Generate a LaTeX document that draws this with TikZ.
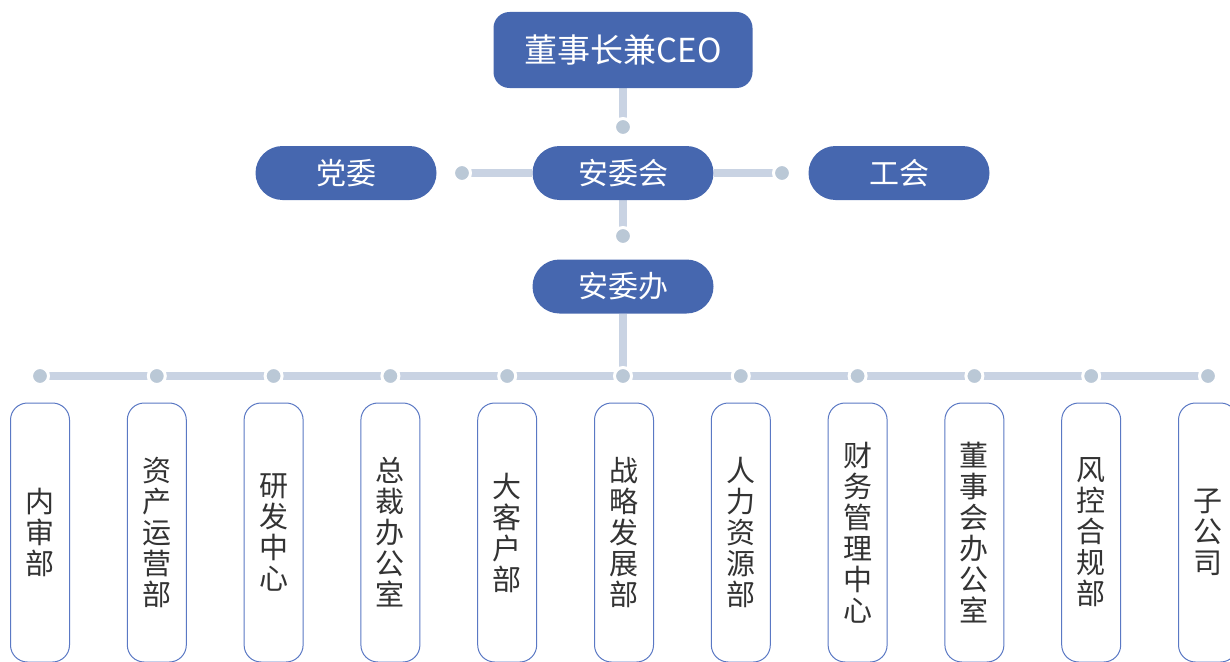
\documentclass[tikz,border=0pt]{standalone}
\usepackage{fontspec}
\setmainfont{Noto Sans CJK SC}
\definecolor{myblue}{HTML}{4667AF}
\definecolor{linegray}{HTML}{C9D3E3}
\definecolor{dotgray}{HTML}{BAC8D6}
\definecolor{borderblue}{HTML}{5A78C4}
\definecolor{textgray}{HTML}{333333}
\pgfdeclarelayer{bg}
\pgfsetlayers{bg,main}
\begin{document}
\begin{tikzpicture}[x=1pt,y=-1pt,
  bluebox/.style={fill=myblue, text=white, inner sep=0pt},
  pill/.style={bluebox, rounded corners=27pt, minimum width=181pt, minimum height=54pt, font=\fontsize{30}{30}\selectfont},
  conn/.style={draw=linegray, line width=8pt},
  dot/.style={circle, fill=dotgray, draw=white, line width=3pt, minimum size=17pt, inner sep=0pt},
  dept/.style={draw=borderblue, line width=1pt, rounded corners=17pt, minimum width=59pt, minimum height=259pt, inner sep=0pt, align=center, text=textgray, font=\fontsize{29}{31}\selectfont, fill=white}]
\useasboundingbox (0,0) rectangle (1230,661);
\clip (0,0) rectangle (1230,661);
% top nodes
\node[bluebox, rounded corners=16pt, minimum width=259pt, minimum height=76pt, font=\fontsize{33}{33}\selectfont] (ceo) at (623,50) {董事长兼CEO};
\node[pill] (dw) at (346,173) {党委};
\node[pill] (awh) at (623,173) {安委会};
\node[pill] (gh) at (899,173) {工会};
\node[pill] (awb) at (623,286.5) {安委办};
% dots
\node[dot] (d1) at (623,127) {};
\node[dot] (dL) at (462,173) {};
\node[dot] (dR) at (782,173) {};
\node[dot] (d2) at (623,236) {};
\foreach \i/\x in {1/40,2/156.8,3/273.6,4/390.4,5/507.2,6/623,7/740.8,8/857.6,9/974.4,10/1091.2,11/1208}{
  \node[dot] (h\i) at (\x,376) {};
}
% departments
\node[dept] (b1) at (40,532.5) {内\\审\\部};
\node[dept] (b2) at (156.8,532.5) {资\\产\\运\\营\\部};
\node[dept] (b3) at (273.6,532.5) {研\\发\\中\\心};
\node[dept] (b4) at (390.4,532.5) {总\\裁\\办\\公\\室};
\node[dept] (b5) at (507.2,532.5) {大\\客\\户\\部};
\node[dept] (b6) at (624,532.5) {战\\略\\发\\展\\部};
\node[dept] (b7) at (740.8,532.5) {人\\力\\资\\源\\部};
\node[dept] (b8) at (857.6,532.5) {财\\务\\管\\理\\中\\心};
\node[dept] (b9) at (974.4,532.5) {董\\事\\会\\办\\公\\室};
\node[dept] (b10) at (1091.2,532.5) {风\\控\\合\\规\\部};
\node[dept] (b11) at (1208,532.5) {子\\公\\司};
% connectors
\begin{pgfonlayer}{bg}
\draw[conn] (ceo.south) -- (d1.center);
\draw[conn] (awh.west) -- (dL.center);
\draw[conn] (awh.east) -- (dR.center);
\draw[conn] (awh.south) -- (d2.center);
\draw[conn] (awb.south) -- (h6.center);
\draw[conn] (h1.center) -- (h11.center);
\end{pgfonlayer}
\end{tikzpicture}
\end{document}
